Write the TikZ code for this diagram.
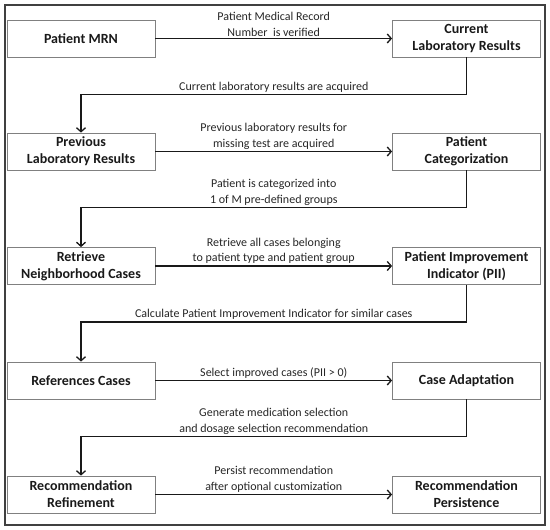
\documentclass[tikz,border=0pt]{standalone}
\usepackage{fontspec}
\setmainfont{Carlito}
\usetikzlibrary{arrows.meta}

\begin{document}
\begin{tikzpicture}[x=1pt,y=1pt,
    stage/.style={draw=black!50, line width=0.8pt, minimum width=148pt, minimum height=37pt,
        align=center, inner sep=1pt, text=black!90, font=\fontsize{14}{17}\selectfont\bfseries},
    flow/.style={draw=black!90, line width=1.3pt, -{Straight Barb[length=4pt,width=9pt]}},
    note/.style={align=center, inner sep=1.5pt, text=black!85, font=\fontsize{12}{15.5}\selectfont}]
    \useasboundingbox (0,0) rectangle (550,530);
    \draw[black!75, line width=1.2pt] (5,5) rectangle (545,525);
    % left column
    \node[stage] (mrn) at (81,491.5) {Patient MRN};
    \node[stage] (prev) at (81,378.5) {Previous\\Laboratory Results};
    \node[stage] (retr) at (81,264) {Retrieve\\Neighborhood Cases};
    \node[stage] (refc) at (81,149.5) {References Cases};
    \node[stage] (refine) at (81,35.5) {Recommendation\\Refinement};
    % right column
    \node[stage] (cur) at (466.5,491.5) {Current\\Laboratory Results};
    \node[stage] (categ) at (466.5,378.5) {Patient\\Categorization};
    \node[stage] (pii) at (466.5,264) {Patient Improvement\\Indicator (PII)};
    \node[stage] (adapt) at (466.5,149.5) {Case Adaptation};
    \node[stage] (persist) at (466.5,35.5) {Recommendation\\Persistence};
    % across
    \draw[flow] (mrn) -- node[note, above] {Patient Medical Record\\Number\ \ is verified} (cur);
    \draw[flow] (prev) -- node[note, above] {Previous laboratory results for\\missing test are acquired} (categ);
    \draw[flow] (retr) -- node[note, above] {Retrieve all cases belonging\\to patient type and patient group} (pii);
    \draw[flow] (refc) -- node[note, above] {Select improved cases (PII > 0)} (adapt);
    \draw[flow] (refine) -- node[note, above] {Persist recommendation\\after optional customization} (persist);
    % back down
    \draw[flow] (cur.south) -- ++(0,-37) -| node[note, above, pos=0.25] {Current laboratory results are acquired} (prev.north);
    \draw[flow] (categ.south) -- ++(0,-37) -| node[note, above, pos=0.25] {Patient is categorized into\\1 of M pre-defined groups} (retr.north);
    \draw[flow] (pii.south) -- ++(0,-37) -| node[note, above, pos=0.25] {Calculate Patient Improvement Indicator for similar cases} (refc.north);
    \draw[flow] (adapt.south) -- ++(0,-37) -| node[note, above, pos=0.25] {Generate medication selection\\and dosage selection recommendation} (refine.north);
\end{tikzpicture}
\end{document}
